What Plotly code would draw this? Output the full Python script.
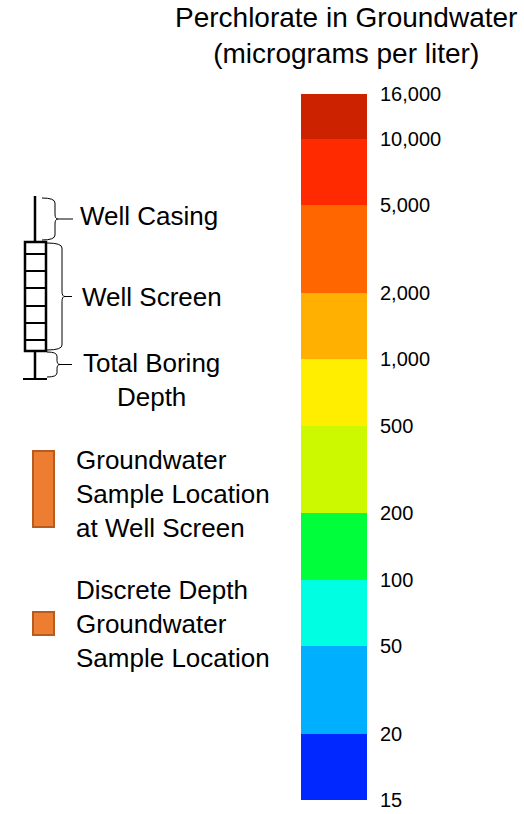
import math
import plotly.graph_objects as go

W, H = 524, 814

# ---- data -------------------------------------------------------------
class_bounds = [15, 20, 50, 100, 200, 500, 1000, 2000, 5000, 10000, 16000]
class_colors = ["#0028FF", "#00B0FF", "#00FFE2", "#00FF3A", "#CCF800",
                "#FFEE00", "#FFB000", "#FF6600", "#FF2A00", "#CC2200"]
tick_labels = ["15", "20", "50", "100", "200", "500", "1,000", "2,000",
               "5,000", "10,000", "16,000"]

# scale positions (log10); lowest class shown with a factor-of-two height
pos = [math.log10(v) for v in class_bounds]
pos[0] = pos[1] - math.log10(2)

FONT = "Liberation Sans, Arial, sans-serif"

fig = go.Figure()
for i, col in enumerate(class_colors):
    fig.add_trace(go.Bar(
        x=[0], y=[pos[i + 1] - pos[i]], base=[pos[i]], width=[1],
        marker=dict(color=col, line=dict(width=0)),
        xaxis="x", yaxis="y", showlegend=False, hoverinfo="skip"))

# invisible overlay axis in pixel units for the legend drawing
fig.add_trace(go.Scatter(x=[0], y=[0], mode="markers", opacity=0,
                         xaxis="x2", yaxis="y2", showlegend=False,
                         hoverinfo="skip"))

def fy(py):
    return 1 - py / H

shapes = []
LC = "black"

def line(x0, y0, x1, y1, w=2):
    shapes.append(dict(type="line", xref="x2", yref="y2", x0=x0, y0=y0,
                       x1=x1, y1=y1, line=dict(color=LC, width=w)))

def brace(x0, xb, y0, y1, xt):
    ym = (y0 + y1) / 2
    r = min(5, (y1 - y0) / 6)
    p = (f"M{x0},{y0} Q{xb},{y0} {xb},{y0 + r} L{xb},{ym - r} "
         f"Q{xb},{ym} {xb + 3},{ym} Q{xb},{ym} {xb},{ym + r} "
         f"L{xb},{y1 - r} Q{xb},{y1} {x0},{y1}")
    shapes.append(dict(type="path", xref="x2", yref="y2", path=p,
                       line=dict(color=LC, width=1)))
    line(xb + 3, ym, xt, ym, 1)

# well diagram
line(35, 196, 35, 242, 2.5)
shapes.append(dict(type="rect", xref="x2", yref="y2", x0=25, y0=242,
                   x1=46, y1=351, line=dict(color=LC, width=2.5)))
for ry in [254, 271, 288, 306, 323, 340]:
    line(25, ry, 46, ry, 2)
line(35, 351, 35, 379, 2.5)
line(23, 379, 47, 379, 2)

brace(42, 55, 198, 240, 73)
brace(47, 62, 243, 350, 72)
brace(47, 57, 352, 377, 72)

# legend swatches
shapes.append(dict(type="rect", xref="x2", yref="y2", x0=33, y0=451,
                   x1=54, y1=527, fillcolor="#ED7D31",
                   line=dict(color="#B85B1F", width=2)))
shapes.append(dict(type="rect", xref="x2", yref="y2", x0=33, y0=612,
                   x1=54, y1=635, fillcolor="#ED7D31",
                   line=dict(color="#B85B1F", width=2)))

annotations = []

def text(t, x, y, size=26, xanchor="left", align="left"):
    annotations.append(dict(text=t, x=x, y=y, xref="x2", yref="y2",
                            xanchor=xanchor, yanchor="middle", align=align,
                            showarrow=False,
                            font=dict(family=FONT, size=size, color="black")))

text("Perchlorate in Groundwater<br>(micrograms per liter)", 346, 35,
     size=28, xanchor="center", align="center")
text("Well Casing", 78, 216)
text("Well Screen", 80, 297)
text("Total Boring<br>Depth", 151, 380, xanchor="center", align="center")
text("Groundwater<br>Sample Location<br>at Well Screen", 74, 494)
text("Discrete Depth<br>Groundwater<br>Sample Location", 74, 624)

fig.update_layout(
    template="none",
    width=W, height=H,
    margin=dict(l=0, r=0, t=0, b=0, pad=0, autoexpand=False),
    paper_bgcolor="white", plot_bgcolor="rgba(0,0,0,0)",
    bargap=0, barmode="overlay",
    xaxis=dict(domain=[301 / W, 367 / W], range=[-0.5, 0.5],
               visible=False, fixedrange=True, automargin=False),
    yaxis=dict(domain=[fy(800), fy(94)], range=[pos[0], pos[-1]],
               side="right", tickvals=pos, ticktext=tick_labels,
               ticks="", ticklabelstandoff=12, showgrid=False,
               zeroline=False, showline=False, automargin=False,
               tickfont=dict(family=FONT, size=20, color="black")),
    xaxis2=dict(domain=[0, 1], range=[0, W], visible=False, anchor="y2",
                automargin=False),
    yaxis2=dict(domain=[0, 1], range=[H, 0], visible=False, anchor="x2",
                automargin=False),
    shapes=shapes, annotations=annotations,
    showlegend=False,
)

fig.write_html("out.html",
               config={"displayModeBar": False},
               post_script="document.body.style.margin='0';"
                           "document.body.style.overflow='hidden';")
